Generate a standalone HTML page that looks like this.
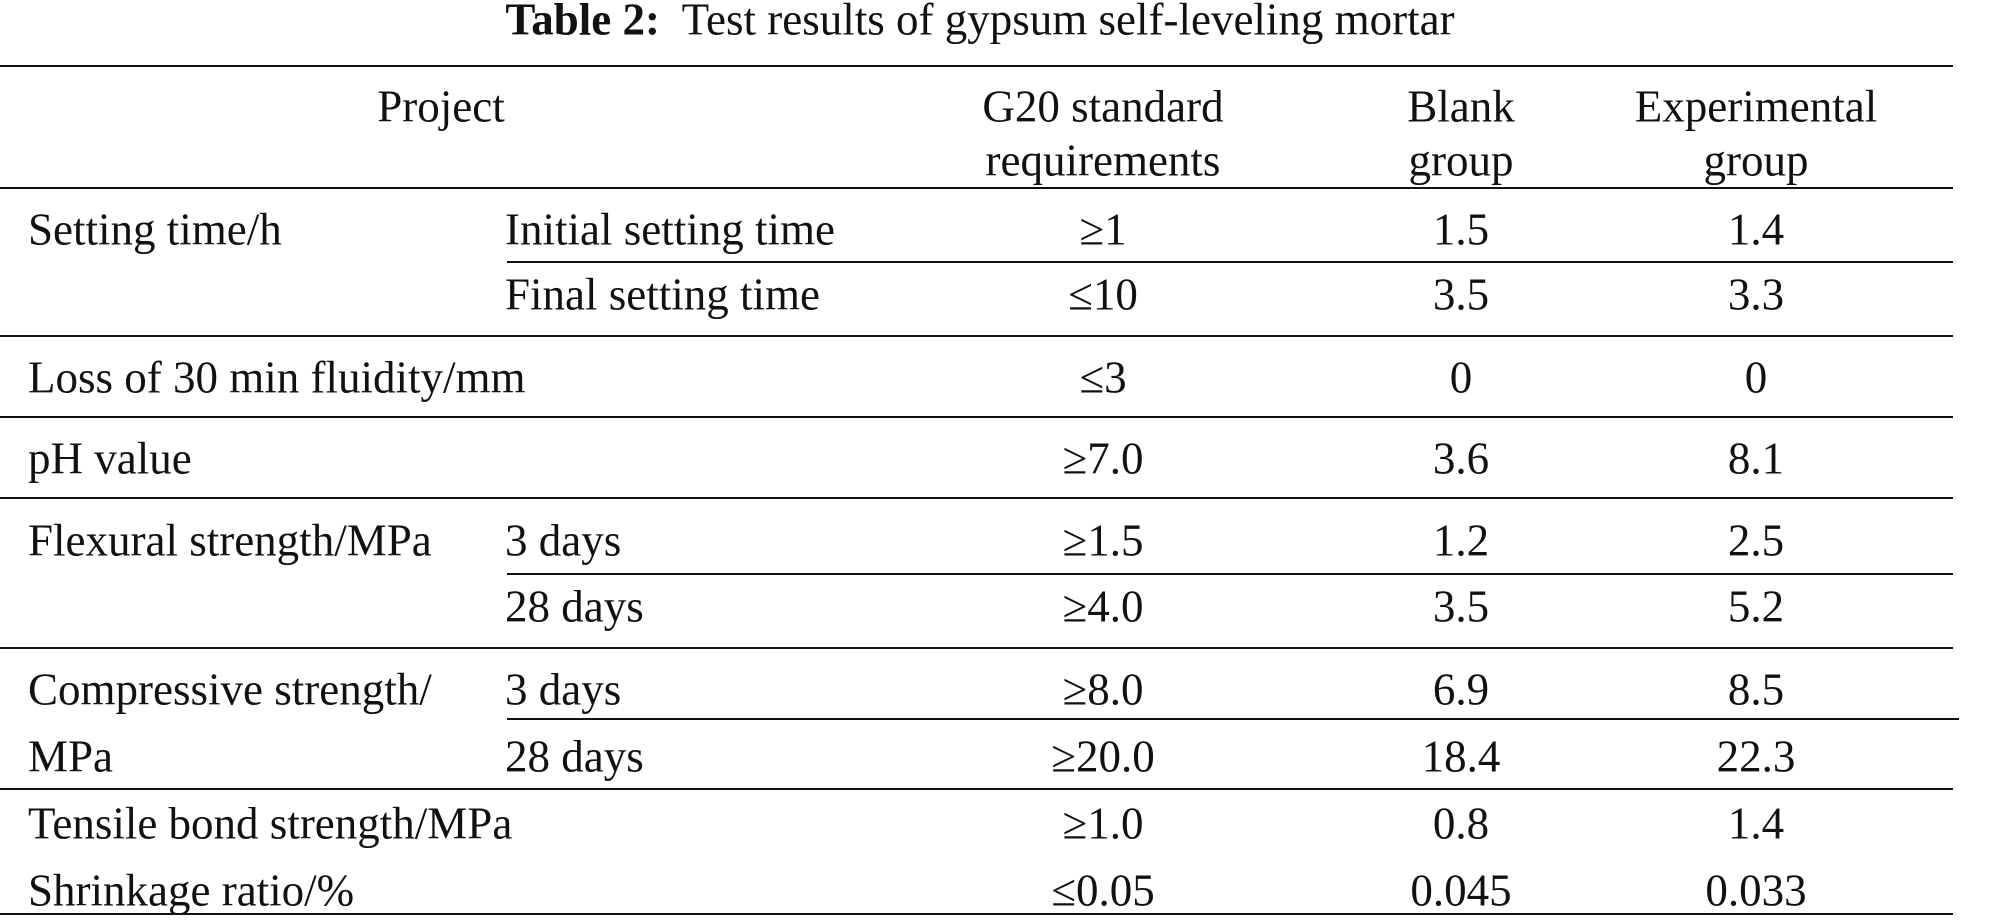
<!DOCTYPE html>
<html><head><meta charset="utf-8"><style>
body{margin:0;width:1989px;height:921px;background:#fff;position:relative;overflow:hidden;font-family:"Liberation Serif",serif;color:#111}
.t{position:absolute;font-size:45px;line-height:1;white-space:nowrap;transform:translateY(-50%)}
.c{transform:translate(-50%,-50%)}
.l{position:absolute;height:2px;background:#111}
</style></head><body>
<div class="t c" style="left:980px;top:20px;font-size:45px"><b>Table 2:</b>&nbsp; Test results of gypsum self-leveling mortar</div>
<div class="l" style="left:0;width:1953px;top:65px"></div>
<div class="t c" style="left:441px;top:107px">Project</div>
<div class="t c" style="left:1103px;top:107px">G20 standard</div>
<div class="t c" style="left:1103px;top:161px">requirements</div>
<div class="t c" style="left:1461px;top:107px">Blank</div>
<div class="t c" style="left:1461px;top:161px">group</div>
<div class="t c" style="left:1756px;top:107px">Experimental</div>
<div class="t c" style="left:1756px;top:161px">group</div>
<div class="l" style="left:0;width:1953px;top:187px"></div>
<div id="rows"></div>
<script>
const rows=[
 ["Setting time/h","Initial setting time","≥1","1.5","1.4",230],
 ["","Final setting time","≤10","3.5","3.3",295],
 ["Loss of 30 min fluidity/mm","","≤3","0","0",378],
 ["pH value","","≥7.0","3.6","8.1",459],
 ["Flexural strength/MPa","3 days","≥1.5","1.2","2.5",541],
 ["","28 days","≥4.0","3.5","5.2",607],
 ["Compressive strength/","3 days","≥8.0","6.9","8.5",690],
 ["MPa","28 days","≥20.0","18.4","22.3",757],
 ["Tensile bond strength/MPa","","≥1.0","0.8","1.4",824],
 ["Shrinkage ratio/%","","≤0.05","0.045","0.033",891]];
const lines=[[507,261,1953],[0,335,1953],[0,416,1953],[0,497,1953],[507,573,1953],[0,647,1953],[507,718,1959],[0,788,1953],[0,913,1953]];
const R=document.getElementById('rows');
function add(txt,x,y,center,name){const d=document.createElement('div');


d.className=center?'t c':'t';d.style.left=x+'px';d.style.top=y+'px';d.textContent=txt;R.appendChild(d);}
rows.forEach((r,i)=>{if(r[0])add(r[0],28,r[5],false,'row-label');if(r[1])add(r[1],505,r[5],false,'row-sublabel');
add(r[2],1103,r[5],true,'g20-value');add(r[3],1461,r[5],true,'blank-value');add(r[4],1756,r[5],true,'experimental-value');});
lines.forEach(l=>{const d=document.createElement('div');


d.className='l';d.style.left=l[0]+'px';d.style.width=(l[2]-l[0])+'px';d.style.top=l[1]+'px';R.appendChild(d);});
</script>
</body></html>
